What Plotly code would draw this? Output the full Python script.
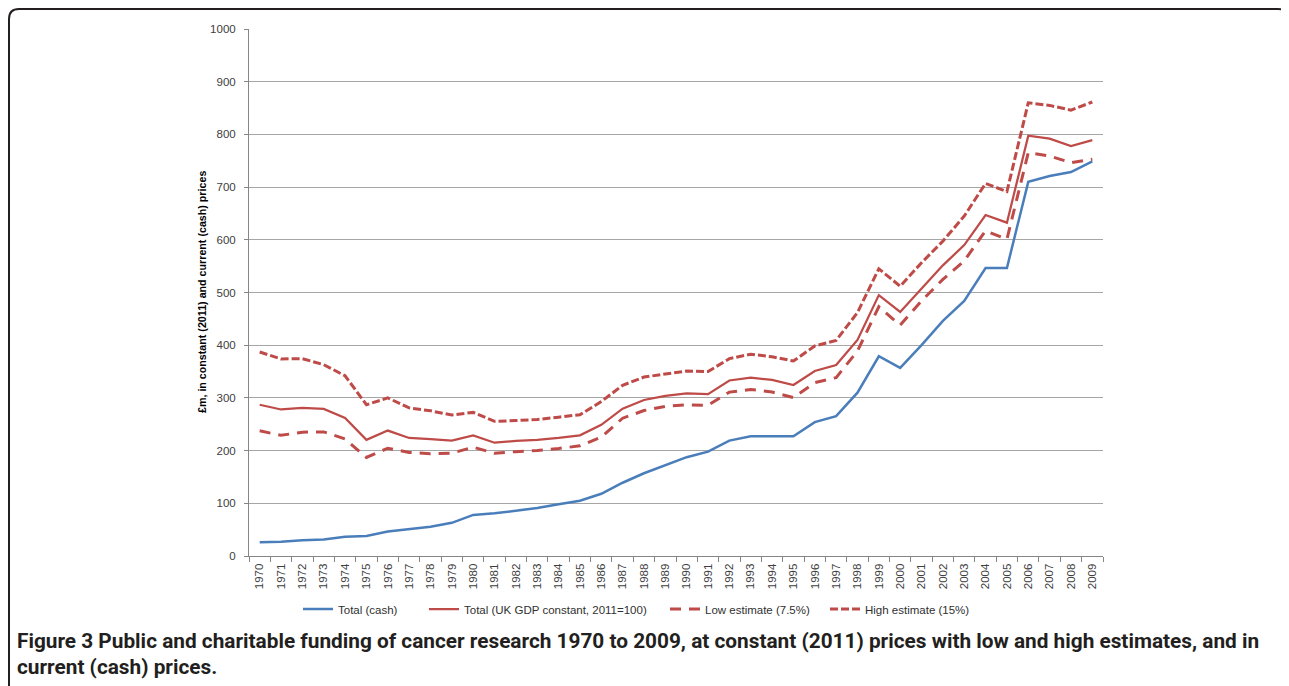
import plotly.graph_objects as go

years = ["1970", "1971", "1972", "1973", "1974", "1975", "1976", "1977", "1978", "1979",
         "1980", "1981", "1982", "1983", "1984", "1985", "1986", "1987", "1988", "1989",
         "1990", "1991", "1992", "1993", "1994", "1995", "1996", "1997", "1998", "1999",
         "2000", "2001", "2002", "2003", "2004", "2005", "2006", "2007", "2008", "2009"]

total_cash = [26, 27, 30, 31.5, 36.5, 38, 46.5, 50.5, 55.5, 63,
              78, 81, 86, 91, 98, 105, 118, 139, 157, 173,
              187.5, 198, 219, 227, 227, 227, 254, 265.5, 310, 379,
              357, 400, 446, 484, 546.5, 546.5, 710, 721, 728.5, 749]

total_constant = [287, 278, 281, 279, 262, 220.5, 238, 224, 222, 219,
                  229, 215, 218.5, 220.5, 224, 229, 249, 279.5, 296, 304,
                  308.5, 307, 333, 338.5, 334, 324.5, 351, 362.5, 410, 495,
                  463, 507, 551.5, 590, 647, 632.5, 797.5, 792, 778, 789]

low_estimate = [237.5, 229, 235, 235.5, 222, 187, 204.5, 196.5, 194, 195,
                206.5, 195, 198, 200, 204, 209, 225.5, 261.5, 276, 284,
                287, 286, 311, 316, 311, 300.5, 329, 338.5, 389, 473,
                438, 484, 525, 560, 617, 601, 765.5, 759, 746.5, 753]

high_estimate = [387, 374, 374.5, 363, 342, 287, 300, 281, 275.5, 267.5,
                 272.5, 255.5, 257, 259, 263.5, 268, 293, 324, 339.5, 345.5,
                 351, 350, 374.5, 383, 378, 370, 398.5, 409, 462, 545,
                 512, 556.5, 597.5, 645, 707, 691.5, 860, 855, 846, 861.5]

series_names = ["Total (cash)", "Total (UK GDP constant, 2011=100)",
                "Low estimate (7.5%)", "High estimate (15%)"]

y_ticks = [0, 100, 200, 300, 400, 500, 600, 700, 800, 900, 1000]

y_title = "£m, in constant (2011) and current (cash) prices"
caption_1 = "<b>Figure 3 Public and charitable funding of cancer research 1970 to 2009, at constant (2011) prices with low and high estimates, and in</b>"
caption_2 = "<b>current (cash) prices.</b>"

BLUE = "#4a7ebb"
RED = "#be4b48"
SANS = "Liberation Sans, Arial, sans-serif"
TICK_FONT = dict(family=SANS, size=11.5, color="#404040")

# page body adds an 8px offset
OFF = 8
W, H = 1281, 678
# plot area in screen pixels
L, R, T, B = 249, 1103, 29, 556


def px(x):
    return (x - L) / (R - L)


def py(y):
    return (B - y) / (B - T)


fig = go.Figure()
fig.add_trace(go.Scatter(x=years, y=total_cash, mode="lines", name=series_names[0],
                         line=dict(color=BLUE, width=2.5), legend="legend"))
fig.add_trace(go.Scatter(x=years, y=total_constant, mode="lines", name=series_names[1],
                         line=dict(color=RED, width=2.25), legend="legend2"))
fig.add_trace(go.Scatter(x=years, y=low_estimate, mode="lines", name=series_names[2],
                         line=dict(color=RED, width=3, dash="11px,8px"), legend="legend3"))
fig.add_trace(go.Scatter(x=years, y=high_estimate, mode="lines", name=series_names[3],
                         line=dict(color=RED, width=3, dash="8px,3px"), legend="legend4"))

# outer frame (rounded corners), kept just inside the figure area
fx0, fy0, fx1, fy1, r = 9, 9, 1288, 700, 10
path = (f"M {px(fx0)},{py(fy1)} L {px(fx0)},{py(fy0 + r)} "
        f"Q {px(fx0)},{py(fy0)} {px(fx0 + r)},{py(fy0)} "
        f"L {px(fx1 - r)},{py(fy0)} Q {px(fx1)},{py(fy0)} {px(fx1)},{py(fy0 + r)} "
        f"L {px(fx1)},{py(fy1)}")


def legend_at(xstart):
    return dict(orientation="h", x=px(xstart), xanchor="left", y=py(609), yanchor="middle",
                font=dict(family=SANS, size=11.5, color="#303030"),
                bgcolor="rgba(0,0,0,0)", itemwidth=30)


fig.update_layout(
    width=W, height=H,
    margin=dict(l=L - OFF, r=W - (R - OFF), t=T - OFF, b=H - (B - OFF), pad=0),
    paper_bgcolor="white", plot_bgcolor="white",
    showlegend=True,
    legend=legend_at(298),
    legend2=legend_at(424),
    legend3=legend_at(665),
    legend4=legend_at(825),
    xaxis=dict(type="category", range=[-0.5, len(years) - 0.5], tickangle=-90, tickfont=TICK_FONT,
               showline=True, linecolor="#868686", linewidth=1,
               ticks="outside", ticklen=5, tickcolor="#868686", tickson="boundaries",
               showgrid=False, zeroline=False, ticklabelstandoff=2),
    yaxis=dict(range=[0, 1000], tickvals=y_ticks, tickfont=TICK_FONT,
               showline=True, linecolor="#868686", linewidth=1,
               ticks="outside", ticklen=4, tickcolor="#868686",
               showgrid=True, gridcolor="#a6a6a6", gridwidth=1, zeroline=False,
               ticklabelstandoff=6),
    shapes=[dict(type="path", path=path, xref="paper", yref="paper",
                 line=dict(color="#231f20", width=2), layer="above")],
    annotations=[
        dict(text=f"<b>{y_title}</b>", x=px(202), y=py(292), xref="paper", yref="paper",
             textangle=-90, showarrow=False, xanchor="center", yanchor="middle",
             font=dict(family=SANS, size=10.7, color="#000000")),
        dict(text=caption_1, x=px(15), y=py(641), xref="paper", yref="paper",
             showarrow=False, xanchor="left", yanchor="middle",
             font=dict(family="Roboto, sans-serif", size=20.8, color="#231f20")),
        dict(text=caption_2, x=px(15), y=py(667), xref="paper", yref="paper",
             showarrow=False, xanchor="left", yanchor="middle",
             font=dict(family="Roboto, sans-serif", size=20.8, color="#231f20")),
    ],
)

fig.write_html("out.html")
